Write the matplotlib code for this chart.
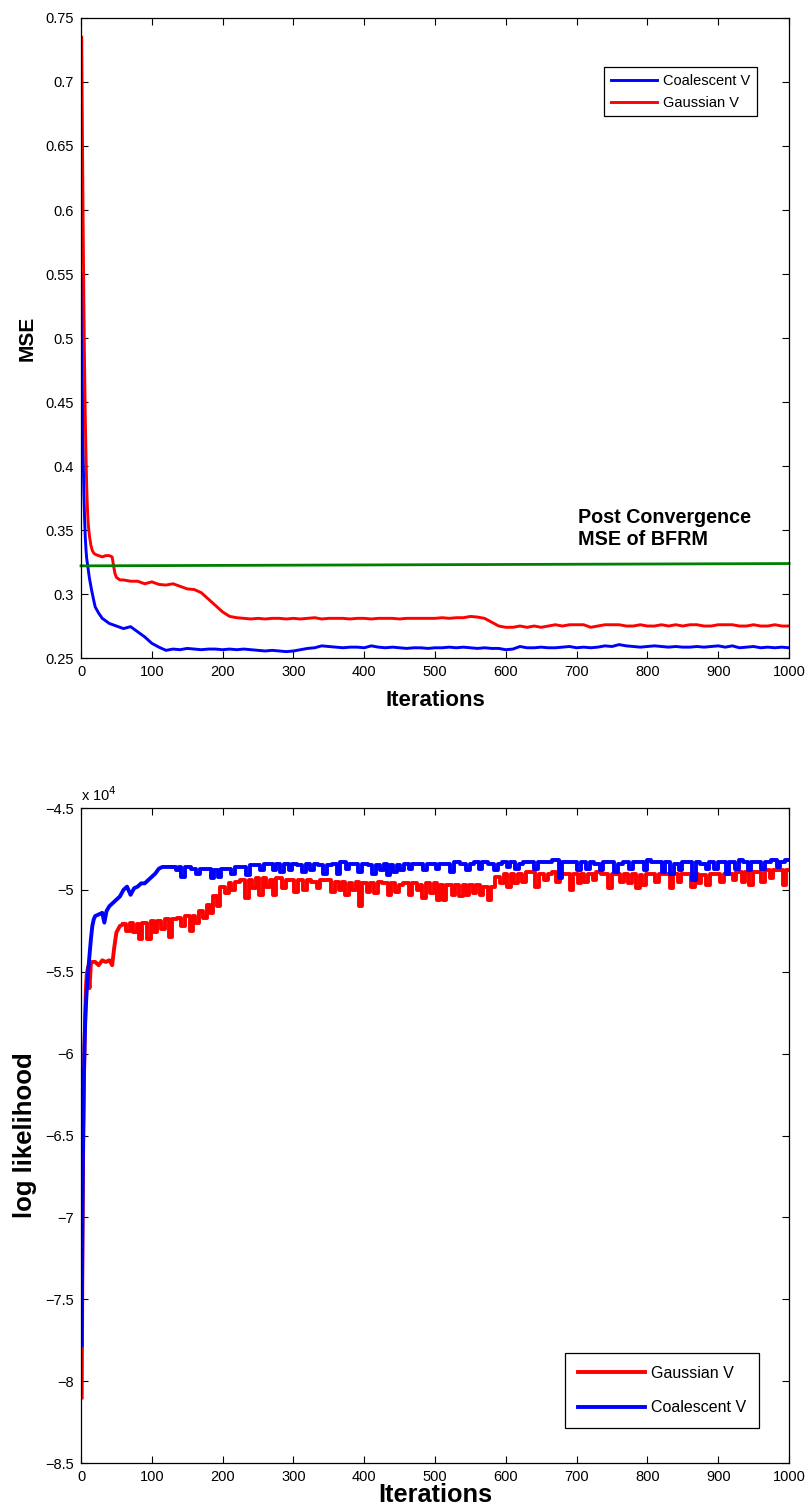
import numpy as np
import matplotlib
matplotlib.use("Agg")
import matplotlib.pyplot as plt
from matplotlib.ticker import FuncFormatter, MultipleLocator

plt.rcParams['font.family'] = ['Liberation Sans', 'DejaVu Sans']

# ---- MSE curves (top panel) ----
# early iterations, sampled densely
mse_coal_x0 = [1, 2, 3, 4, 5, 6, 7, 8, 10, 12, 15, 18, 20, 25, 30, 35, 40, 45, 50, 55]
mse_coal_y0 = [0.55, 0.46, 0.41, 0.38, 0.36, 0.345, 0.335, 0.328, 0.320, 0.312, 0.303, 0.295,
               0.290, 0.285, 0.281, 0.279, 0.277, 0.276, 0.275, 0.274]
mse_gaus_x0 = [1, 2, 3, 4, 5, 6, 7, 8, 9, 10, 12, 14, 16, 18, 20, 25, 30, 35, 40, 44, 46, 48, 50, 55]
mse_gaus_y0 = [0.735, 0.66, 0.59, 0.53, 0.48, 0.44, 0.41, 0.385, 0.368, 0.356, 0.345, 0.338,
               0.334, 0.332, 0.331, 0.330, 0.329, 0.330, 0.330, 0.329, 0.322, 0.316, 0.313, 0.311]
# every 10 iterations from 60 to 1000
mse_iter = np.arange(60, 1001, 10)
mse_coal = [0.273, 0.2745, 0.2705, 0.2665, 0.2615, 0.2585, 0.256, 0.257, 0.2565, 0.2575,
            0.257, 0.2565, 0.257, 0.257, 0.2565, 0.257, 0.2565, 0.257, 0.2565, 0.256,
            0.2555, 0.256, 0.2555, 0.255, 0.2555, 0.2565, 0.2575, 0.258, 0.2595, 0.259,
            0.2585, 0.258, 0.2585, 0.2585, 0.258, 0.2595, 0.2585, 0.258, 0.2585, 0.258,
            0.2575, 0.258, 0.258, 0.2575, 0.258, 0.258, 0.2585, 0.258, 0.2585, 0.258,
            0.2575, 0.258, 0.2575, 0.2575, 0.2565, 0.257, 0.259, 0.258, 0.258, 0.2585,
            0.258, 0.258, 0.2585, 0.259, 0.258, 0.2585, 0.258, 0.2585, 0.2595, 0.259,
            0.2605, 0.2595, 0.259, 0.2585, 0.259, 0.2595, 0.259, 0.2585, 0.259, 0.2585,
            0.2585, 0.259, 0.2585, 0.259, 0.2595, 0.2585, 0.2595, 0.258, 0.2585, 0.259,
            0.258, 0.2585, 0.258, 0.2585, 0.258]
mse_gaus = [0.311, 0.310, 0.310, 0.308, 0.3095, 0.3075, 0.307, 0.308, 0.306, 0.304,
            0.3035, 0.301, 0.296, 0.291, 0.286, 0.2825, 0.2815, 0.281, 0.2805, 0.281,
            0.2805, 0.281, 0.281, 0.2805, 0.281, 0.2805, 0.281, 0.2815, 0.2805, 0.281,
            0.281, 0.281, 0.2805, 0.281, 0.281, 0.2805, 0.281, 0.281, 0.281, 0.2805,
            0.281, 0.281, 0.281, 0.281, 0.281, 0.2815, 0.281, 0.2815, 0.2815, 0.2825,
            0.282, 0.281, 0.278, 0.275, 0.274, 0.274, 0.275, 0.274, 0.275, 0.274,
            0.275, 0.276, 0.275, 0.276, 0.276, 0.276, 0.274, 0.275, 0.276, 0.276,
            0.276, 0.275, 0.275, 0.276, 0.275, 0.275, 0.276, 0.275, 0.276, 0.275,
            0.276, 0.276, 0.275, 0.275, 0.276, 0.276, 0.276, 0.275, 0.275, 0.276,
            0.275, 0.275, 0.276, 0.275, 0.275]
bfrm_x = [0, 1000]
bfrm_y = [0.3220, 0.3238]

# ---- log likelihood curves, x 10^4 (bottom panel) ----
ll_gaus_x0 = [1, 2, 3, 4, 5, 6, 7, 8, 10, 12, 14, 16, 20, 25, 30, 35, 40, 44, 47, 50, 55, 60]
ll_gaus_y0 = [-8.1, -7.2, -6.6, -6.2, -5.95, -5.75, -5.6, -5.52, -5.47, -5.6, -5.45, -5.44,
              -5.44, -5.46, -5.43, -5.44, -5.43, -5.46, -5.35, -5.26, -5.22, -5.21]
ll_coal_x0 = [1, 2, 3, 4, 5, 6, 7, 8, 10, 12, 14, 16, 18, 20, 25, 30, 33, 36, 40, 45, 50, 55,
              60, 65, 70, 75, 80, 85, 90, 95, 100, 105, 110, 115, 120, 130]
ll_coal_y0 = [-7.78, -7.0, -6.5, -6.15, -5.95, -5.8, -5.7, -5.62, -5.5, -5.4, -5.3, -5.22,
              -5.18, -5.16, -5.15, -5.14, -5.2, -5.13, -5.1, -5.08, -5.06, -5.04, -5.0, -4.98,
              -5.03, -4.99, -4.98, -4.96, -4.96, -4.94, -4.92, -4.9, -4.87, -4.86, -4.86, -4.86]

ll_gaus_iter = np.arange(60, 1001, 10)
ll_gaus = [-5.21, -5.20, -5.21, -5.20, -5.19, -5.19, -5.18, -5.18, -5.17, -5.16,
           -5.16, -5.13, -5.09, -5.04, -4.98, -4.96, -4.95, -4.94, -4.94, -4.93,
           -4.93, -4.94, -4.93, -4.94, -4.94, -4.94, -4.94, -4.95, -4.94, -4.94,
           -4.95, -4.95, -4.96, -4.95, -4.96, -4.96, -4.95, -4.96, -4.96, -4.97,
           -4.96, -4.96, -4.97, -4.96, -4.96, -4.97, -4.97, -4.97, -4.97, -4.97,
           -4.97, -4.98, -4.98, -4.92, -4.90, -4.90, -4.90, -4.89, -4.89, -4.90,
           -4.90, -4.89, -4.90, -4.90, -4.90, -4.90, -4.90, -4.89, -4.90, -4.90,
           -4.90, -4.90, -4.90, -4.91, -4.90, -4.90, -4.90, -4.90, -4.90, -4.90,
           -4.90, -4.90, -4.91, -4.90, -4.90, -4.90, -4.90, -4.89, -4.89, -4.89,
           -4.89, -4.88, -4.88, -4.88, -4.88]
ll_gaus_dips_x = [67, 78, 83, 97, 105, 117, 128, 143, 157, 163, 175, 183, 193,
                  207, 215, 234, 244, 253, 263, 272, 288, 302, 318, 336, 357, 368, 376, 386,
                  394, 407, 418, 437, 447, 466, 478, 484, 497, 505, 512, 527, 538, 547, 556,
                  566, 579, 594, 604, 614, 627, 643, 658, 672, 691, 703, 712, 726, 749, 764,
                  776, 788, 795, 812, 833, 846, 864, 872, 886, 905, 921, 937, 947, 962, 976, 992]
ll_gaus_dips_y = [-5.25, -5.26, -5.3, -5.3, -5.26, -5.24, -5.29, -5.22,
                  -5.25, -5.2, -5.17, -5.14, -5.1, -5.02, -5.0, -5.05, -4.99, -5.03, -4.98,
                  -5.03, -4.99, -5.01, -5.0, -4.99, -5.01, -5.0, -5.03, -5.0, -5.1, -5.01,
                  -5.02, -5.03, -5.01, -5.03, -5.0, -5.05, -5.02, -5.06, -5.06, -5.03, -5.04,
                  -5.03, -5.02, -5.03, -5.06, -4.96, -4.98, -4.96, -4.95, -4.98, -4.94, -4.95,
                  -5.0, -4.96, -4.95, -4.94, -4.99, -4.95, -4.96, -4.99, -4.97, -4.95, -4.99,
                  -4.95, -4.98, -4.96, -4.97, -4.95, -4.94, -4.95, -4.97, -4.95, -4.93, -4.97]

ll_coal_iter = np.arange(130, 1001, 10)
ll_coal = [-4.86, -4.86, -4.86, -4.87, -4.87, -4.87, -4.88, -4.87, -4.87, -4.86,
           -4.86, -4.85, -4.85, -4.84, -4.84, -4.84, -4.84, -4.84, -4.85, -4.84,
           -4.84, -4.85, -4.85, -4.84, -4.83, -4.84, -4.84, -4.84, -4.85, -4.85,
           -4.84, -4.85, -4.85, -4.84, -4.84, -4.84, -4.84, -4.84, -4.84, -4.84,
           -4.83, -4.84, -4.84, -4.83, -4.83, -4.84, -4.84, -4.83, -4.83, -4.84,
           -4.83, -4.83, -4.83, -4.83, -4.82, -4.83, -4.83, -4.83, -4.83, -4.83,
           -4.84, -4.83, -4.83, -4.84, -4.83, -4.83, -4.83, -4.82, -4.83, -4.83,
           -4.83, -4.84, -4.83, -4.83, -4.83, -4.84, -4.83, -4.83, -4.83, -4.83,
           -4.82, -4.83, -4.83, -4.83, -4.83, -4.82, -4.83, -4.82]
ll_coal_dips_x = [137, 143, 166, 187, 196, 215, 236, 256, 272, 283, 297, 315, 328, 344, 362,
                  378, 393, 412, 426, 433, 442, 452, 466, 487, 502, 523, 548, 563, 587, 603,
                  617, 640, 679, 702, 717, 736, 757, 778, 799, 820, 835, 849, 866, 885, 899,
                  911, 928, 944, 962, 985]
ll_coal_dips_y = [-4.88, -4.92, -4.9, -4.93, -4.92, -4.9, -4.91, -4.88, -4.88, -4.89, -4.88,
                  -4.89, -4.88, -4.9, -4.9, -4.87, -4.89, -4.9, -4.88, -4.91, -4.89, -4.88,
                  -4.87, -4.88, -4.87, -4.89, -4.88, -4.87, -4.88, -4.86, -4.87, -4.87, -4.93,
                  -4.88, -4.87, -4.88, -4.89, -4.87, -4.88, -4.89, -4.9, -4.88, -4.94, -4.87,
                  -4.87, -4.9, -4.87, -4.88, -4.87, -4.86]


def join(*parts):
    # put sample lists together and order them by iteration
    xs = np.concatenate([np.asarray(p[0], float) for p in parts])
    ys = np.concatenate([np.asarray(p[1], float) for p in parts])
    order = np.argsort(xs, kind='stable')
    return xs[order], ys[order]


def style_axes(ax, fs):
    ax.set_xlim(0, 1000)
    ax.xaxis.set_major_locator(MultipleLocator(100))
    ax.tick_params(direction='in', top=True, right=True, length=5, width=0.8,
                   labelsize=fs, pad=5)
    for s in ax.spines.values():
        s.set_linewidth(0.9)


fig = plt.figure(figsize=(8.06, 15.12), dpi=100)

# top panel
ax1 = fig.add_axes([0.1005, 0.5648, 0.8784, 0.4233])
x, y = join((mse_coal_x0, mse_coal_y0), (mse_iter, mse_coal))
ax1.plot(x, y, color='b', lw=2.1, label='Coalescent V')
x, y = join((mse_gaus_x0, mse_gaus_y0), (mse_iter, mse_gaus))
ax1.plot(x, y, color='r', lw=2.1, label='Gaussian V')
ax1.plot(bfrm_x, bfrm_y, color=(0, 0.5, 0), lw=2.0, clip_on=False)
ax1.set_ylim(0.25, 0.75)
ax1.yaxis.set_major_locator(MultipleLocator(0.05))
ax1.yaxis.set_major_formatter(FuncFormatter(lambda v, p: '%g' % round(v, 2)))
style_axes(ax1, 10.5)
ax1.text(702, 0.3383, 'Post Convergence\nMSE of BFRM', fontsize=14.2,
         fontweight='bold', ha='left', va='baseline', linespacing=1.2)
ax1.set_xlabel('Iterations', fontsize=16, fontweight='bold', labelpad=8)
ax1.set_ylabel('MSE', fontsize=15, fontweight='bold')
ax1.yaxis.set_label_coords(-0.062, 0.5)
leg = ax1.legend(loc='upper right', bbox_to_anchor=(0.955, 0.923), borderaxespad=0,
                 fontsize=10.5, handlelength=3.2, handletextpad=0.4, labelspacing=0.55,
                 borderpad=0.45, fancybox=False, framealpha=1, edgecolor='k')
leg.get_frame().set_linewidth(0.9)

# bottom panel: fast start drawn as a plain line, the noisy plateau as steps
ax2 = fig.add_axes([0.1005, 0.0324, 0.8784, 0.4332])
ax2.plot(ll_gaus_x0, ll_gaus_y0, color='r', lw=2.8)
x, y = join((ll_gaus_iter, ll_gaus), (ll_gaus_dips_x, ll_gaus_dips_y))
ax2.plot(x, y, color='r', lw=2.8, drawstyle='steps-mid', label='Gaussian V')
ax2.plot(ll_coal_x0, ll_coal_y0, color='b', lw=2.8)
x, y = join((ll_coal_iter, ll_coal), (ll_coal_dips_x, ll_coal_dips_y))
ax2.plot(x, y, color='b', lw=2.8, drawstyle='steps-mid', label='Coalescent V')
ax2.set_ylim(-8.5, -4.5)
ax2.yaxis.set_major_locator(MultipleLocator(0.5))
ax2.yaxis.set_major_formatter(FuncFormatter(lambda v, p: ('%g' % round(v, 2)).replace('-', '\u2212')))
style_axes(ax2, 10.5)
ax2.text(0, 1.0107, r'x 10$^{4}$', transform=ax2.transAxes, fontsize=10.5,
         ha='left', va='baseline')
ax2.set_xlabel('Iterations', fontsize=18.3, fontweight='bold', labelpad=-1)
ax2.set_ylabel('log likelihood', fontsize=18.5, fontweight='bold')
ax2.yaxis.set_label_coords(-0.062, 0.5)
leg = ax2.legend(loc='lower right', bbox_to_anchor=(0.958, 0.0534), borderaxespad=0,
                 fontsize=11.5, handlelength=4.2, handletextpad=0.4, labelspacing=1.2,
                 borderpad=0.8, fancybox=False, framealpha=1, edgecolor='k')
leg.get_frame().set_linewidth(0.9)

fig.savefig('out.png', dpi=100)
